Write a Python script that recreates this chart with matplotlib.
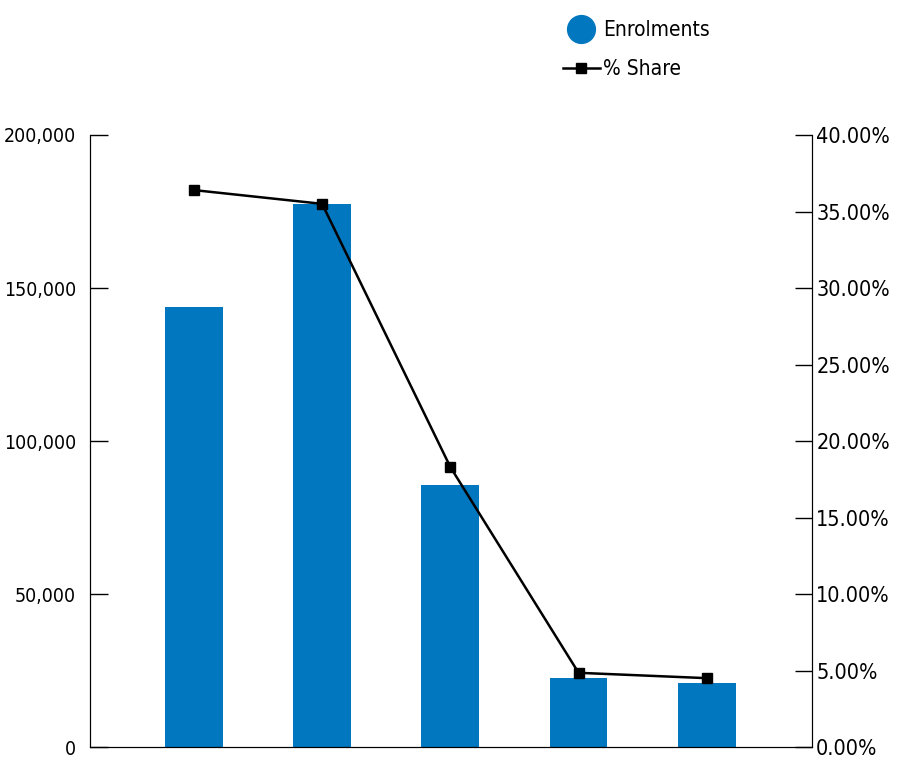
import matplotlib
matplotlib.use("Agg")
import matplotlib.pyplot as plt
from matplotlib.lines import Line2D
from matplotlib.ticker import FuncFormatter, MultipleLocator
import numpy as np

plt.rcParams["font.family"] = ["DejaVu Sans"]
plt.rcParams["font.stretch"] = "condensed"

# data
categories = ["A", "B", "C", "D", "E"]
enrolments = [143800, 177500, 85600, 22600, 20900]
share_pct = [36.4, 35.5, 18.3, 4.85, 4.5]

bar_color = "#0077BE"

fig = plt.figure(figsize=(9.11, 7.58), dpi=100)
ax = fig.add_axes([0.0988, 0.0145, 0.7925, 0.8074])
x = np.arange(len(categories))

ax.bar(x, enrolments, width=0.45, color=bar_color, zorder=2)
ax.set_xlim(-0.81, 4.82)
ax.set_ylim(0, 200000)
ax.yaxis.set_major_locator(MultipleLocator(50000))
ax.yaxis.set_major_formatter(FuncFormatter(lambda v, p: f"{int(v):,}"))
ax.set_xticks([])
ax.spines["top"].set_visible(False)
ax.tick_params(axis="y", direction="in", length=13, width=1, labelsize=14, pad=10)

ax2 = ax.twinx()
ax2.plot(x, share_pct, color="black", linewidth=1.8, marker="s", markersize=7, zorder=3)
ax2.set_ylim(0, 40)
ax2.yaxis.set_major_locator(MultipleLocator(5))
ax2.yaxis.set_major_formatter(FuncFormatter(lambda v, p: f"{v:.2f}%"))
ax2.spines["top"].set_visible(False)
ax2.tick_params(axis="y", direction="in", length=12, width=1, labelsize=15.5, pad=3)

handles = [
    Line2D([], [], linestyle="none", marker="o", markersize=20, color=bar_color, label="Enrolments"),
    Line2D([], [], color="black", linewidth=1.8, marker="s", markersize=7, label="% Share"),
]
fig.legend(handles=handles, loc="upper left", bbox_to_anchor=(0.597, 0.998), frameon=False,
           fontsize=15, handlelength=1.8, handletextpad=0.15, labelspacing=0.9)

fig.savefig("out.png", dpi=100)
